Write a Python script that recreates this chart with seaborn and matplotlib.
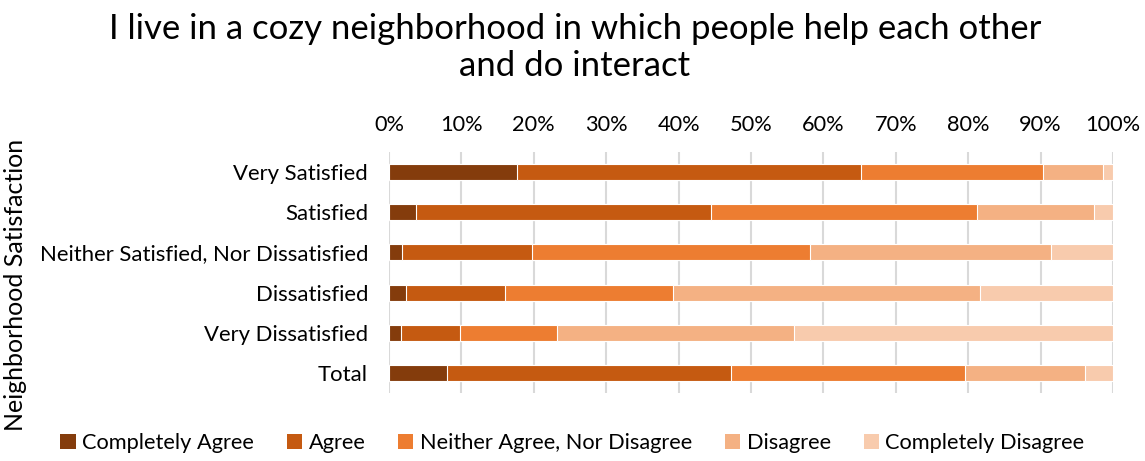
import matplotlib
matplotlib.use("Agg")
import matplotlib.pyplot as plt
from matplotlib.patches import Patch
from matplotlib.ticker import PercentFormatter, MultipleLocator
import seaborn as sns
import pandas as pd
import numpy as np

# Survey responses (% of respondents) by neighborhood satisfaction group
groups = ["Very Satisfied", "Satisfied", "Neither Satisfied, Nor Dissatisfied",
          "Dissatisfied", "Very Dissatisfied", "Total"]
responses = ["Completely Agree", "Agree", "Neither Agree, Nor Disagree",
             "Disagree", "Completely Disagree"]
completely_agree = [17.7, 3.7, 1.8, 2.3, 1.6, 8.0]
agree = [47.5, 40.8, 18.0, 13.7, 8.2, 39.3]
neither = [25.1, 36.7, 38.4, 23.3, 13.4, 32.3]
disagree = [8.3, 16.2, 33.2, 42.3, 32.8, 16.6]
completely_disagree = [1.4, 2.6, 8.6, 18.4, 44.0, 3.8]
colors = ["#843C0C", "#C55A11", "#ED7D31", "#F4B183", "#F8CBAD"]

sns.set_theme(style="white")
plt.rcParams["font.family"] = ["Lato", "DejaVu Sans"]
plt.rcParams["text.color"] = "#000000"

series = [completely_agree, agree, neither, disagree, completely_disagree]
vals = np.array(series, dtype=float)
vals = vals / vals.sum(axis=0) * 100
cum = np.cumsum(vals, axis=0)

fig = plt.figure(figsize=(11.45, 4.61), dpi=100)
ax = fig.add_axes([0.3397, 0.1475, 0.6323, 0.5228])

# Stack by drawing cumulative totals from the outermost segment inward
for i in range(len(responses) - 1, -1, -1):
    df = pd.DataFrame({"group": groups, "value": cum[i]})
    sns.barplot(data=df, y="group", x="value", orient="h", color=colors[i],
                saturation=1, width=0.4, edgecolor="white", linewidth=0.8,
                ax=ax, zorder=2)

ax.set_xlim(0, 100)
ax.set_ylim(5.5, -0.5)
ax.xaxis.set_major_locator(MultipleLocator(10))
ax.xaxis.set_major_formatter(PercentFormatter(decimals=0))
ax.xaxis.tick_top()
ax.tick_params(axis="x", length=0, labelsize=15.7, pad=12, colors="#000000")
ax.tick_params(axis="y", length=0, labelsize=15.9, pad=15, colors="#000000")
ax.set_xlabel("")
ax.set_ylabel("Neighborhood Satisfaction", fontsize=18, color="#000000")
ax.yaxis.set_label_coords(-0.500, 0.45)
ax.grid(axis="x", color="#D9D9D9", linewidth=1.5, zorder=0)
ax.set_axisbelow(True)
for s in ax.spines.values():
    s.set_visible(False)

fig.suptitle("I live in a cozy neighborhood in which people help each other\nand do interact",
             x=0.502, y=0.972, fontsize=25, linespacing=1.2, color="#000000")

handles = [Patch(facecolor=c, edgecolor="none") for c in colors]
fig.legend(handles, responses, loc="lower center", bbox_to_anchor=(0.5, -0.025),
           ncol=5, frameon=False, fontsize=15.7, handlelength=0.7, handleheight=0.7,
           handletextpad=0.3, columnspacing=1.5)

fig.savefig("out.png", dpi=100)
